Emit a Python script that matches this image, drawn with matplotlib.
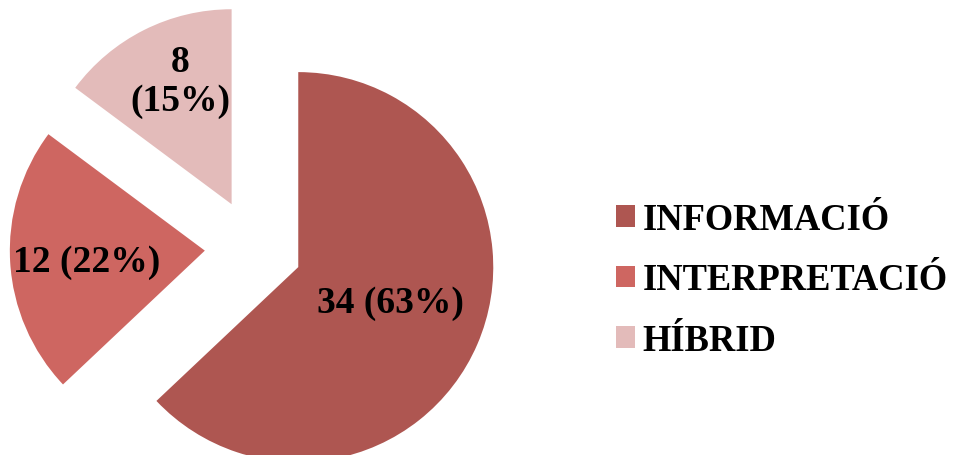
import numpy as np
import matplotlib.pyplot as plt
from matplotlib.patches import Patch

categories = ['INFORMACIÓ', 'INTERPRETACIÓ', 'HÍBRID']
values = [34, 12, 8]
colors = ['#AE5651', '#CE6661', '#E3BBBA']

plt.rcParams['font.family'] = ['Liberation Serif', 'DejaVu Serif']

fig = plt.figure(figsize=(9.59, 4.56), dpi=100)
ax = fig.add_axes([0, 0, 1, 1])

# pie centre in pixels and radius in pixels
cx, cy, rpx = 253.5, 248.8, 195.0
W, H = 959, 456

wedges, _ = ax.pie(values, colors=colors, startangle=90, counterclock=False,
                   explode=[0.25] * 3, radius=1.0,
                   wedgeprops=dict(linewidth=0))

ax.set_xlim(-cx / rpx, (W - cx) / rpx)
ax.set_ylim(-(H - cy) / rpx, cy / rpx)
ax.set_aspect('equal')
ax.axis('off')

total = sum(values)
pct = [round(v * 100 / total) for v in values]
texts = [f'{values[0]} ({pct[0]}%)',
         f'{values[1]} ({pct[1]}%)',
         f'{values[2]}\n({pct[2]}%)']
label_px = [(390, 304), (87, 263), (180, 82)]
for t, (px, py) in zip(texts, label_px):
    ax.text((px - cx) / rpx, (cy - py) / rpx, t, ha='center', va='center',
            fontsize=27, fontweight='bold', linespacing=1.15)

handles = [Patch(facecolor=c, edgecolor='none') for c in colors]
fig.legend(handles, categories, loc='center left',
           bbox_to_anchor=(616 / W, 1 - 281 / H), frameon=False,
           prop=dict(size=26.3, weight='bold'),
           handlelength=0.52, handleheight=0.52, handletextpad=0.2,
           labelspacing=0.7, borderpad=0, borderaxespad=0)

fig.savefig('out.png', dpi=100)
